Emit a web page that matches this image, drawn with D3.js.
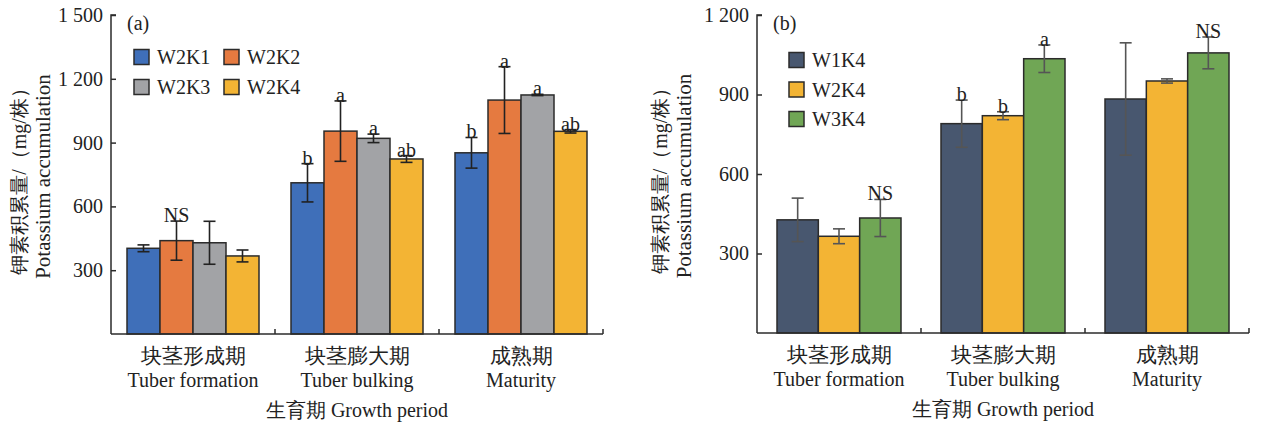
<!DOCTYPE html>
<html>
<head>
<meta charset="utf-8">
<script src="https://cdn.jsdelivr.net/npm/d3@7"></script>
<style>
  body { margin: 0; background: #fff; }
</style>
</head>
<body>
<svg id="chart" width="1261" height="427"></svg>
<script>
// growth periods (x categories)
const periodsCn = ["块茎形成期", "块茎膨大期", "成熟期"];
const periodsEn = ["Tuber formation", "Tuber bulking", "Maturity"];

// panel (a) - W2 with K1..K4
const seriesA = ["W2K1", "W2K2", "W2K3", "W2K4"];
const colorsA = ["#3f6fb9", "#e57a40", "#a2a3a6", "#f3b434"];
const valuesA = [[403, 439, 429, 367], [711, 954, 920, 823], [852, 1100, 1124, 953]];
const errorsA = [[16, 92, 101, 28], [90, 142, 20, 16], [72, 157, 3, 8]];
const lettersA = [["", "NS", "", ""], ["b", "a", "a", "ab"], ["b", "a", "a", "ab"]];
const ticksA = [300, 600, 900, 1200, 1500];

// panel (b) - K4 with W1..W3
const seriesB = ["W1K4", "W2K4", "W3K4"];
const colorsB = ["#48576f", "#f3b434", "#70a655"];
const valuesB = [[427, 365, 434], [790, 820, 1035], [883, 951, 1057]];
const errorsB = [[82, 28, 70], [89, 15, 52], [212, 8, 60]];
const lettersB = [["", "", "NS"], ["b", "b", "a"], ["", "", "NS"]];
const ticksB = [300, 600, 900, 1200];

const FONT = "'Liberation Serif', 'DejaVu Serif', 'Times New Roman', serif";
const fmt = d3.formatLocale({ decimal: ".", thousands: " ", grouping: [3], currency: ["", ""] }).format(",");
const svg = d3.select("#chart").attr("font-family", FONT);

function label(sel, x, y, txt, size) {
  return sel.append("text").attr("x", x).attr("y", y)
    .attr("font-family", FONT).attr("font-size", size || 20).attr("fill", "#222").text(txt);
}

function drawPanel(opt) {
  const g = svg.append("g");
  const x = d3.scaleBand().domain(periodsEn).range([opt.x0, opt.x1]);
  const y = d3.scaleLinear().domain([0, opt.ymax]).range([opt.yBottom, opt.yTop]);
  const inner = d3.scaleBand().domain(opt.series).range([0, opt.groupW]);
  const pad = (x.bandwidth() - opt.groupW) / 2;
  const color = d3.scaleOrdinal().domain(opt.series).range(opt.colors);

  // bars
  periodsEn.forEach((p, i) => {
    const grp = g.append("g").attr("transform", `translate(${x(p) + pad},0)`);
    opt.series.forEach((s, j) => {
      const v = opt.values[i][j], e = opt.errors[i][j];
      const cx = inner(s) + inner.bandwidth() / 2;
      grp.append("rect")
        .attr("x", inner(s)).attr("y", y(v))
        .attr("width", inner.bandwidth()).attr("height", y(0) - y(v))
        .attr("fill", color(s)).attr("stroke", "#2b2b2b").attr("stroke-width", 1.5);
      // error bar
      grp.append("line").attr("x1", cx).attr("x2", cx).attr("y1", y(v + e)).attr("y2", y(v - e))
        .attr("stroke", opt.errColor).attr("stroke-width", 1.6);
      [v + e, v - e].forEach(t => {
        grp.append("line").attr("x1", cx - 6).attr("x2", cx + 6).attr("y1", y(t)).attr("y2", y(t))
          .attr("stroke", opt.errColor).attr("stroke-width", 1.6);
      });
      const lab = opt.letters[i][j];
      if (lab) label(grp, cx, y(v + e) + 1, lab).attr("text-anchor", "middle");
    });
  });

  // y axis
  const yAxis = g.append("g").attr("transform", `translate(${opt.x0},0)`)
    .call(d3.axisLeft(y).tickValues(opt.ticks).tickSizeInner(-5).tickSizeOuter(0).tickPadding(8).tickFormat(fmt));
  yAxis.select(".domain").attr("stroke", "#2b2b2b").attr("stroke-width", 1.5).attr("d", `M0,${opt.yBottom}V${opt.yTop}h5`);
  yAxis.selectAll(".tick line").attr("stroke", "#2b2b2b").attr("stroke-width", 1.5);
  yAxis.selectAll(".tick text").attr("font-size", 20).attr("fill", "#222").attr("font-family", FONT);

  // x axis with boundary ticks pointing up
  const xb = periodsEn.map(p => x(p) + x.bandwidth());
  g.append("line").attr("x1", opt.x0).attr("x2", opt.x1).attr("y1", y(0)).attr("y2", y(0))
    .attr("stroke", "#2b2b2b").attr("stroke-width", 1.5);
  g.selectAll(".xt").data(xb).join("line")
    .attr("x1", d => d).attr("x2", d => d).attr("y1", y(0)).attr("y2", y(0) - 5)
    .attr("stroke", "#2b2b2b").attr("stroke-width", 1.5);

  periodsEn.forEach((p, i) => {
    const cx = x(p) + x.bandwidth() / 2;
    label(g, cx, y(0) + 29, periodsCn[i], 21).attr("text-anchor", "middle");
    label(g, cx, y(0) + 53, p, 20).attr("text-anchor", "middle");
  });
  label(g, (opt.x0 + opt.x1) / 2, y(0) + 83, "生育期 Growth period", 20).attr("text-anchor", "middle");

  // y title
  const ty = (opt.yTop + opt.yBottom) / 2 + 2;
  label(g, 0, 0, "钾素积累量/（mg/株）", 20).attr("x", null).attr("y", null)
    .attr("transform", `translate(${opt.titleX},${ty}) rotate(-90)`).attr("text-anchor", "middle");
  label(g, 0, 0, "Potassium accumulation", 21).attr("x", null).attr("y", null)
    .attr("transform", `translate(${opt.titleX + 24},${ty}) rotate(-90)`).attr("text-anchor", "middle");

  // panel tag
  label(g, opt.x0 + 16, 30, opt.tag, 20);

  // legend
  opt.series.forEach((s, j) => {
    const lx = opt.legX + (j % opt.legCols) * opt.legColW;
    const ly = opt.legY + Math.floor(j / opt.legCols) * opt.legRowH;
    g.append("rect").attr("x", lx).attr("y", ly - 7.5).attr("width", 15).attr("height", 15)
      .attr("fill", color(s)).attr("stroke", "#2b2b2b").attr("stroke-width", 1.5);
    label(g, lx + 23, ly + 7, s, 20);
  });
}

drawPanel({
  tag: "(a)", series: seriesA, colors: colorsA, values: valuesA, errors: errorsA, letters: lettersA,
  ticks: ticksA, ymax: 1500, x0: 111, x1: 603, yTop: 15, yBottom: 334, groupW: 132,
  errColor: "#222", titleX: 26,
  legX: 134, legY: 57, legCols: 2, legColW: 90, legRowH: 30
});

drawPanel({
  tag: "(b)", series: seriesB, colors: colorsB, values: valuesB, errors: errorsB, letters: lettersB,
  ticks: ticksB, ymax: 1200, x0: 757, x1: 1249, yTop: 15, yBottom: 333, groupW: 124,
  errColor: "#555", titleX: 667,
  legX: 789, legY: 60, legCols: 1, legColW: 0, legRowH: 29.5
});
</script>
</body>
</html>
